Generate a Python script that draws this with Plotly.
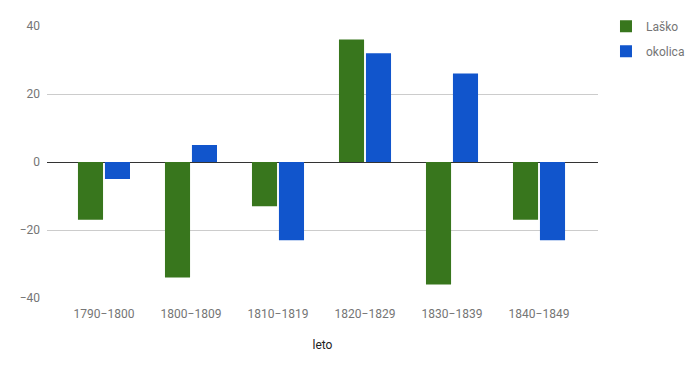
import plotly.graph_objects as go

categories = ["1790\u22121800", "1800\u22121809", "1810\u22121819", "1820\u22121829", "1830\u22121839", "1840\u22121849"]
lasko = [-17, -34, -13, 36, -36, -17]
okolica = [-5, 5, -23, 32, 26, -23]

fig = go.Figure()
fig.add_trace(go.Bar(x=categories, y=lasko, name="Laško", legendgroup="a",
                     marker=dict(color="#38761d", line=dict(width=0))))
fig.add_trace(go.Bar(x=categories, y=okolica, name="okolica", legendgroup="b",
                     marker=dict(color="#1155cc", line=dict(width=0))))

# page body has an 8px default margin, so the figure is 8px smaller
fig.update_layout(
    width=690, height=363,
    margin=dict(l=39, r=100, t=18, b=73, autoexpand=False),
    paper_bgcolor="white", plot_bgcolor="white",
    font=dict(family="Roboto", size=12, color="#757575"),
    barmode="group", bargap=0.38, bargroupgap=0.07,
    showlegend=True,
    legend=dict(x=1.0145, y=1.052, xanchor="left", yanchor="top",
                font=dict(size=12, color="#757575"), itemwidth=30, tracegroupgap=6),
    xaxis=dict(title=dict(text="leto", font=dict(size=12, color="#222222"), standoff=20),
               range=[-0.655, 5.678], ticklabelstandoff=7,
               showgrid=False, ticks="", showline=False, tickfont=dict(color="#757575")),
    yaxis=dict(range=[-40, 40], dtick=20, showgrid=True, gridcolor="#cccccc",
               zeroline=True, zerolinecolor="#333333", zerolinewidth=1,
               ticks="", tickfont=dict(color="#757575"), ticklabelstandoff=6),
)
fig.write_html("out.html")
